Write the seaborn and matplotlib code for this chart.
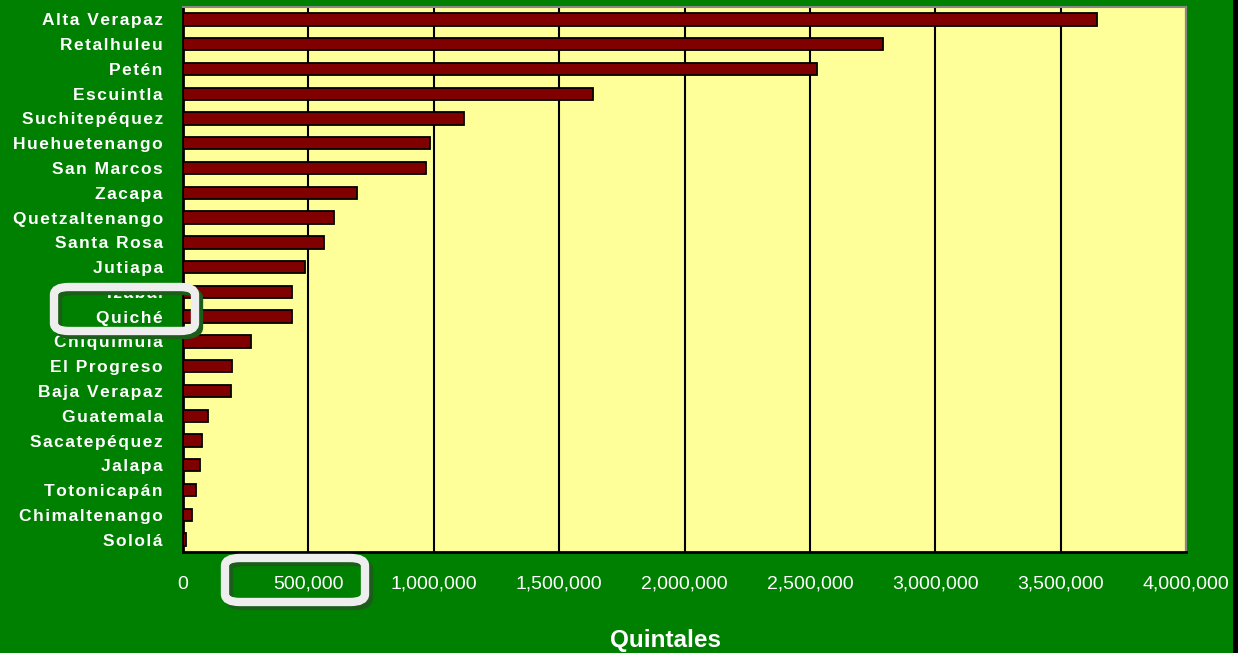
import matplotlib
matplotlib.use('Agg')
import matplotlib.pyplot as plt
from matplotlib.patches import FancyBboxPatch, Rectangle
from matplotlib.ticker import FuncFormatter, MultipleLocator
import seaborn as sns
import pandas as pd

# Data (quintales por departamento)
departamentos = ['Alta Verapaz', 'Retalhuleu', 'Petén', 'Escuintla', 'Suchitepéquez',
                 'Huehuetenango', 'San Marcos', 'Zacapa', 'Quetzaltenango', 'Santa Rosa',
                 'Jutiapa', 'Izabal', 'Quiché', 'Chiquimula', 'El Progreso',
                 'Baja Verapaz', 'Guatemala', 'Sacatepéquez', 'Jalapa', 'Totonicapán',
                 'Chimaltenango', 'Sololá']
quintales = [3647000, 2791000, 2530000, 1635000, 1121000,
             985000, 969000, 694000, 602000, 564000,
             487000, 433000, 433000, 271000, 195000,
             190000, 98000, 75000, 67000, 52000,
             36000, 13000]

GREEN = '#008000'
YELLOW = '#FFFF99'
BAR = '#800000'

df = pd.DataFrame({'Departamento': departamentos, 'Quintales': quintales})

sns.set_style('white')
plt.rcParams['font.family'] = ['Liberation Sans', 'DejaVu Sans']

fig = plt.figure(figsize=(12.38, 6.53), dpi=100, facecolor=GREEN)
ax = fig.add_axes([183 / 1238, 1 - 552 / 653, (1186 - 183) / 1238, (552 - 7) / 653])
ax.set_facecolor(YELLOW)

sns.barplot(data=df, x='Quintales', y='Departamento', orient='h', ax=ax,
            color=BAR, edgecolor='black', linewidth=1.3, width=0.5,
            saturation=1, zorder=3)

ax.set_xlim(0, 4000000)
ax.xaxis.set_major_locator(MultipleLocator(500000))
ax.xaxis.set_major_formatter(FuncFormatter(lambda v, p: f'{int(v):,}'))
ax.grid(axis='x', color='black', linewidth=1.5, zorder=0)
ax.set_axisbelow(True)

# y ticks at category boundaries, labels on categories (wide letter spacing)
n = len(departamentos)
ax.set_yticks([i - 0.5 for i in range(n + 1)], minor=True)
ax.set_yticks(range(n))
ax.set_yticklabels(['\u200a'.join(d) for d in departamentos])
ax.tick_params(axis='y', which='minor', length=6, width=1.5, color='black', direction='out')
ax.tick_params(axis='y', which='major', length=0, pad=14.5)
for lbl in ax.get_yticklabels():
    lbl.set_color('white')
    lbl.set_fontweight('bold')
    lbl.set_fontsize(12.5)
ax.tick_params(axis='x', length=7, width=1.5, color='black', direction='out',
               pad=10, labelsize=14, labelcolor='white')

ax.set_xlabel('')
ax.set_ylabel('')
for side in ['left', 'bottom']:
    ax.spines[side].set_color('black')
    ax.spines[side].set_linewidth(2)
for side in ['top', 'right']:
    ax.spines[side].set_color('#888888')
    ax.spines[side].set_linewidth(1.5)

fig.text(666 / 1238, 1 - 641 / 653, 'Quintales', color='white', fontsize=17.5,
         fontweight='bold', ha='center', va='center')

# highlight boxes (drop shadow + light frame)
def highlight(x0, y0, x1, y1):
    W, H = 1238, 653
    for dx, dy, col, z in [(4, 4, '#1a5e1a', 9), (0, 0, '#EEEEEE', 10)]:
        box = FancyBboxPatch(((x0 + dx) / W, 1 - (y1 + dy) / H),
                             (x1 - x0) / W, (y1 - y0) / H,
                             boxstyle='round,pad=0,rounding_size=0.012',
                             transform=fig.transFigure, fill=False,
                             edgecolor=col, linewidth=6, zorder=z)
        fig.add_artist(box)

highlight(54, 287, 195, 331)
highlight(225, 558, 365, 602)

# dark strip on the right edge
fig.add_artist(Rectangle((1233 / 1238, 0), 5 / 1238, 1, transform=fig.transFigure,
                         facecolor='black', edgecolor='none', zorder=20))

fig.savefig('out.png', dpi=100, facecolor=GREEN)
